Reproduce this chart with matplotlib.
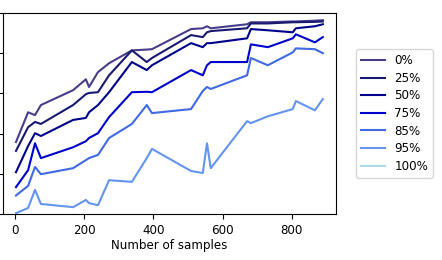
import matplotlib
matplotlib.use("Agg")
import matplotlib.pyplot as plt

samples = [3, 38, 58, 75, 168, 205, 214, 240, 272, 338, 381, 396, 509, 543,
           555, 566, 671, 682, 731, 803, 812, 867, 890]

labels = ["0%", "25%", "50%", "75%", "85%", "95%", "100%"]
colors = ["#483D8B", "#191970", "#00008B", "#0000CD", "#4169E1", "#6495ED", "#ADD8E6"]

s0 = [0.679, 0.753, 0.746, 0.771, 0.808, 0.835, 0.816, 0.853, 0.875, 0.907, 0.909, 0.910,
      0.960, 0.962, 0.967, 0.962, 0.972, 0.977, 0.977, 0.979, 0.979, 0.981, 0.982]
s25 = [0.657, 0.716, 0.729, 0.724, 0.771, 0.798, 0.801, 0.803, 0.845, 0.907, 0.878, 0.888,
       0.945, 0.940, 0.952, 0.955, 0.962, 0.974, 0.974, 0.977, 0.977, 0.978, 0.979]
s50 = [0.604, 0.669, 0.701, 0.694, 0.734, 0.739, 0.753, 0.771, 0.803, 0.878, 0.858, 0.870,
       0.925, 0.915, 0.925, 0.925, 0.937, 0.960, 0.957, 0.952, 0.962, 0.967, 0.972]
s75 = [0.567, 0.609, 0.676, 0.639, 0.666, 0.681, 0.689, 0.701, 0.741, 0.803, 0.804, 0.803,
       0.858, 0.845, 0.870, 0.878, 0.878, 0.922, 0.915, 0.937, 0.947, 0.927, 0.940]
s85 = [0.546, 0.570, 0.617, 0.599, 0.614, 0.634, 0.639, 0.647, 0.689, 0.724, 0.771, 0.751,
       0.761, 0.806, 0.816, 0.811, 0.845, 0.888, 0.870, 0.902, 0.912, 0.910, 0.900]
s95 = [0.502, 0.515, 0.560, 0.525, 0.517, 0.535, 0.527, 0.522, 0.584, 0.580, 0.639, 0.662,
       0.607, 0.602, 0.676, 0.614, 0.731, 0.726, 0.743, 0.761, 0.781, 0.758, 0.786]
s100 = []  # no visible points in the plotted range

series = [s0, s25, s50, s75, s85, s95, s100]

yticks = [0.5, 0.6, 0.7, 0.8, 0.9, 1.0]
xticks = [0, 200, 400, 600, 800]

plt.rcParams['font.family'] = ['DejaVu Sans']
plt.rcParams['font.size'] = 8.6

fig = plt.figure(figsize=(4.42, 2.60), dpi=100)
W, H = 442, 260
ax = fig.add_axes([2.5 / W, 1 - 214 / H, (336 - 2.5) / W, (214 - 13) / H])

for lab, col, ys in zip(labels, colors, series):
    xs = samples[:len(ys)]
    ax.plot(xs, ys, color=col, lw=1.5, label=lab)

ax.set_xlim(-36, 928)
ax.set_ylim(0.5, 1.0)
ax.set_yticks(yticks)
ax.set_yticklabels([])
ax.set_xticks(xticks)
ax.set_xlabel("Number of samples", labelpad=2)

fig.legend(loc="center left", bbox_to_anchor=(350 / W, 1 - 113.5 / H),
           frameon=True, fontsize=8.6, labelspacing=0.39)

fig.savefig("out.png", dpi=100)
